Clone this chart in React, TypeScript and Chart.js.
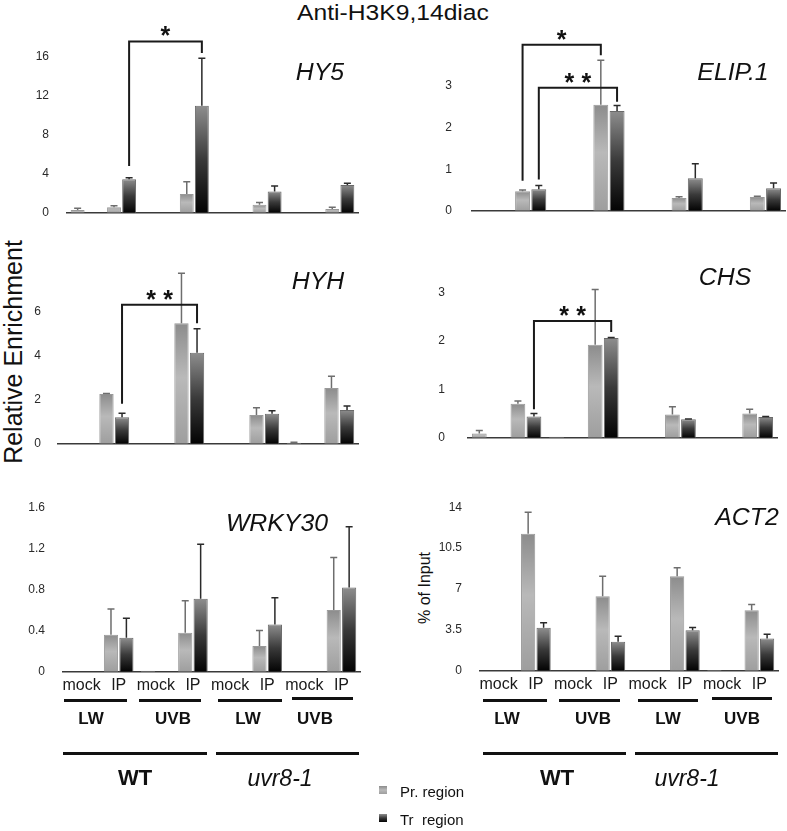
import React, { useEffect, useRef } from 'react';
import { Chart, registerables } from 'chart.js';

Chart.register(...registerables);

const FONT = '"Liberation Sans", Arial, Helvetica, sans-serif';
Chart.defaults.font.family = FONT;

// categories on every panel
const categories = ['mock', 'IP', 'mock', 'IP', 'mock', 'IP', 'mock', 'IP'];

// HY5
const hy5Pr = [0.28, 0.56, 0, 1.94, 0, 0.82, 0, 0.4];
const hy5PrErr = [0.18, 0.16, 0, 1.25, 0, 0.23, 0, 0.16];
const hy5Tr = [0, 3.45, 0, 11.0, 0, 2.2, 0, 2.86];
const hy5TrErr = [0, 0.15, 0, 4.87, 0, 0.56, 0, 0.17];
const hy5Ticks = [0, 4, 8, 12, 16];

// ELIP.1
const elipPr = [0, 0.47, 0, 2.55, 0, 0.31, 0, 0.33];
const elipPrErr = [0, 0.03, 0, 1.07, 0, 0.03, 0, 0.02];
const elipTr = [0, 0.52, 0, 2.4, 0, 0.78, 0, 0.54];
const elipTrErr = [0, 0.09, 0, 0.13, 0, 0.35, 0, 0.13];
const elipTicks = [0, 1, 2, 3];

// HYH
const hyhPr = [0, 2.26, 0, 5.48, 0, 1.31, 0.05, 2.53];
const hyhPrErr = [0, 0.02, 0, 2.27, 0, 0.33, 0.02, 0.54];
const hyhTr = [0, 1.21, 0, 4.14, 0, 1.36, 0, 1.53];
const hyhTrErr = [0, 0.18, 0, 1.08, 0, 0.14, 0, 0.19];
const hyhTicks = [0, 2, 4, 6];

// CHS
const chsPr = [0.09, 0.7, 0.02, 1.92, 0, 0.48, 0, 0.5];
const chsPrErr = [0.06, 0.06, 0, 1.14, 0, 0.16, 0, 0.09];
const chsTr = [0, 0.44, 0, 2.06, 0, 0.38, 0, 0.43];
const chsTrErr = [0, 0.06, 0, 0.01, 0, 0.01, 0, 0.01];
const chsTicks = [0, 1, 2, 3];

// WRKY30
const wrkyPr = [0, 0.36, 0.01, 0.38, 0, 0.25, 0, 0.6];
const wrkyPrErr = [0, 0.25, 0, 0.31, 0, 0.15, 0, 0.51];
const wrkyTr = [0, 0.33, 0, 0.71, 0, 0.46, 0, 0.82];
const wrkyTrErr = [0, 0.19, 0, 0.53, 0, 0.26, 0, 0.59];
const wrkyTicks = [0, 0.4, 0.8, 1.2, 1.6];
const wrkyTickLabels = ['0', '0.4', '0.8', '1.2', '1.6'];

// ACT2 (% of input)
const act2Pr = [0, 11.73, 0, 6.38, 0, 8.08, 0.05, 5.18];
const act2PrErr = [0, 1.84, 0, 1.7, 0, 0.74, 0, 0.49];
const act2Tr = [0, 3.67, 0, 2.48, 0, 3.47, 0, 2.76];
const act2TrErr = [0, 0.43, 0, 0.48, 0, 0.23, 0, 0.37];
const act2Ticks = [0, 3.5, 7, 10.5, 14];

const seriesNames = ['Pr. region', 'Tr  region'];
const conditions = ['LW', 'UVB', 'LW', 'UVB'];
const genotypes = ['WT', 'uvr8-1'];

// significance brackets: [dataset, category] ends, heights in data units
type Bracket = { from: [number, number]; to: [number, number]; level: number; leftEnd: number; rightEnd: number; mark: number };

const hy5Brackets: Bracket[] = [{ from: [1, 1], to: [1, 3], level: 17.6, leftEnd: 4.8, rightEnd: 16.4, mark: 1 }];
const elipBrackets: Bracket[] = [
  { from: [0, 1], to: [0, 3], level: 3.99, leftEnd: 0.72, rightEnd: 3.74, mark: 1 },
  { from: [1, 1], to: [1, 3], level: 2.96, leftEnd: 0.75, rightEnd: 2.62, mark: 2 },
];
const hyhBrackets: Bracket[] = [{ from: [1, 1], to: [1, 3], level: 6.32, leftEnd: 1.82, rightEnd: 5.48, mark: 2 }];
const chsBrackets: Bracket[] = [{ from: [1, 1], to: [1, 3], level: 2.41, leftEnd: 0.59, rightEnd: 2.18, mark: 2 }];

const prStops: [number, string][] = [[0, '#8c8c8c'], [0.45, '#b9b9b9'], [1, '#9e9e9e']];
const trStops: [number, string][] = [[0, '#8e8e8e'], [0.5, '#3a3a3a'], [1, '#030303']];

const shade = (stops: [number, string][]) => (ctx: any) => {
  const chart = ctx.chart;
  if (!chart.chartArea || !ctx.parsed) return stops[1][1];
  const y = chart.scales.y;
  const top = y.getPixelForValue(ctx.parsed.y);
  const bottom = y.getPixelForValue(0);
  if (bottom - top < 1) return stops[2][1];
  const g = chart.ctx.createLinearGradient(0, top, 0, bottom);
  stops.forEach(([o, c]) => g.addColorStop(o, c));
  return g;
};

const errorBarPlugin = {
  id: 'errorBars',
  afterDatasetsDraw(chart: any) {
    const { ctx } = chart;
    const y = chart.scales.y;
    chart.data.datasets.forEach((ds: any, di: number) => {
      const meta = chart.getDatasetMeta(di);
      meta.data.forEach((bar: any, i: number) => {
        const e = ds.errors[i];
        if (!e) return;
        const v = ds.data[i];
        const yBar = y.getPixelForValue(v);
        const yTop = y.getPixelForValue(v + e);
        ctx.save();
        ctx.strokeStyle = ds.errorColor;
        ctx.lineWidth = 1.5;
        ctx.beginPath();
        ctx.moveTo(bar.x, yBar);
        ctx.lineTo(bar.x, yTop);
        ctx.moveTo(bar.x - 3.5, yTop);
        ctx.lineTo(bar.x + 3.5, yTop);
        ctx.stroke();
        ctx.restore();
      });
    });
  },
};

const makeBracketPlugin = (brackets: Bracket[]) => ({
  id: 'brackets',
  afterDatasetsDraw(chart: any) {
    const { ctx } = chart;
    const y = chart.scales.y;
    brackets.forEach((b) => {
      const x1 = chart.getDatasetMeta(b.from[0]).data[b.from[1]].x;
      const x2 = chart.getDatasetMeta(b.to[0]).data[b.to[1]].x;
      const yl = y.getPixelForValue(b.level);
      ctx.save();
      ctx.strokeStyle = '#1a1a1a';
      ctx.lineWidth = 2;
      ctx.beginPath();
      ctx.moveTo(x1, y.getPixelForValue(b.leftEnd));
      ctx.lineTo(x1, yl);
      ctx.lineTo(x2, yl);
      ctx.lineTo(x2, y.getPixelForValue(b.rightEnd));
      ctx.stroke();
      ctx.fillStyle = '#111';
      ctx.font = `bold 25px ${FONT}`;
      ctx.textAlign = 'center';
      ctx.textBaseline = 'alphabetic';
      const cx = (x1 + x2) / 2;
      for (let k = 0; k < b.mark; k++) {
        const dx = (k - (b.mark - 1) / 2) * 17;
        ctx.fillText('*', cx + dx, yl + 3);
      }
      ctx.restore();
    });
  },
});

type Box = { x: number; y: number; w: number; h: number };
type Area = { left: number; right: number; top: number; bottom: number };

interface PanelProps {
  pr: number[];
  prErr: number[];
  tr: number[];
  trErr: number[];
  ticks: number[];
  tickLabels?: string[];
  brackets?: Bracket[];
  box: Box;
  area: Area;
  showX?: boolean;
  tickPad: number;
}

const Panel: React.FC<PanelProps> = ({ pr, prErr, tr, trErr, ticks, tickLabels, brackets = [], box, area, showX = false, tickPad }) => {
  const canvasRef = useRef<HTMLCanvasElement>(null);

  useEffect(() => {
    if (!canvasRef.current) return;
    const xH = showX ? 24 : 0;
    const labels = tickLabels || ticks.map(String);
    const chart = new Chart(canvasRef.current, {
      type: 'bar',
      data: {
        labels: categories,
        datasets: [
          { label: seriesNames[0], data: pr, errors: prErr, errorColor: '#6e6e6e', backgroundColor: shade(prStops), borderColor: '#999999', borderWidth: 1 } as any,
          { label: seriesNames[1], data: tr, errors: trErr, errorColor: '#2a2a2a', backgroundColor: shade(trStops), borderColor: '#6a6a6a', borderWidth: 1 } as any,
        ],
      },
      options: {
        animation: false,
        responsive: false,
        maintainAspectRatio: false,
        categoryPercentage: 0.83,
        barPercentage: 0.92,
        layout: {
          padding: {
            left: 0,
            top: area.top - box.y,
            right: box.x + box.w - area.right,
            bottom: box.y + box.h - area.bottom - xH,
          },
        },
        plugins: { legend: { display: false }, tooltip: { enabled: false } },
        scales: {
          x: {
            grid: { display: false },
            border: { display: true, color: '#3a3a3a', width: 1.5 },
            ticks: { display: showX, color: '#1a1a1a', font: { size: 16 }, padding: -4, maxRotation: 0, autoSkip: false },
            afterFit: (s: any) => { s.height = xH; },
          },
          y: {
            min: 0,
            max: ticks[ticks.length - 1],
            grid: { display: false },
            border: { display: false },
            afterBuildTicks: (s: any) => { s.ticks = ticks.map((v) => ({ value: v })); },
            ticks: {
              color: '#2a2a2a',
              font: { size: 12 },
              padding: tickPad,
              callback: (v: any) => labels[ticks.indexOf(Number(v))] ?? '',
            },
            afterFit: (s: any) => { s.width = area.left - box.x; },
          },
        },
      } as any,
      plugins: [errorBarPlugin, makeBracketPlugin(brackets)],
    });
    return () => chart.destroy();
  }, []);

  return (
    <canvas
      ref={canvasRef}
      width={box.w}
      height={box.h}
      style={{ position: 'absolute', left: box.x, top: box.y, width: box.w, height: box.h }}
    />
  );
};

const Text: React.FC<{ x: number; y: number; size: number; style?: React.CSSProperties; rotate?: boolean; children: React.ReactNode }> = ({ x, y, size, style, rotate, children }) => (
  <div
    style={{
      position: 'absolute',
      left: x,
      top: y,
      fontSize: size,
      lineHeight: 1,
      whiteSpace: 'nowrap',
      color: '#111',
      transform: `translate(-50%, -50%)${rotate ? ' rotate(-90deg)' : ''}`,
      ...style,
    }}
  >
    {children}
  </div>
);

const Rule: React.FC<{ x1: number; x2: number; y: number; t?: number }> = ({ x1, x2, y, t = 3 }) => (
  <div style={{ position: 'absolute', left: x1, top: y - t / 2, width: x2 - x1, height: t, background: '#111' }} />
);

// x-axis grouping underneath the bottom panels
const Grouping: React.FC<{ short: [number, number][]; condX: number[]; long: [number, number][]; genoX: number[] }> = ({ short, condX, long, genoX }) => (
  <>
    {short.map(([a, b], i) => <Rule key={'s' + i} x1={a} x2={b} y={i === 3 ? 698 : 700} />)}
    {conditions.map((c, i) => (
      <Text key={'c' + i} x={condX[i]} y={718} size={17} style={{ fontWeight: 'bold' }}>{c}</Text>
    ))}
    {long.map(([a, b], i) => <Rule key={'l' + i} x1={a} x2={b} y={753} />)}
    <Text x={genoX[0]} y={778} size={22} style={{ fontWeight: 'bold' }}>{genotypes[0]}</Text>
    <Text x={genoX[1]} y={778} size={23} style={{ fontStyle: 'italic' }}>{genotypes[1]}</Text>
  </>
);

const gene: React.CSSProperties = { fontStyle: 'italic', transform: 'translate(-50%, -50%) scaleX(1.08)' };

export default function App() {
  return (
    <div style={{ position: 'absolute', left: 0, top: 0, width: 787, height: 831, background: '#fff', fontFamily: FONT, overflow: 'hidden' }}>
      <Text x={393} y={13} size={22} style={{ transform: 'translate(-50%, -50%) scaleX(1.12)' }}>Anti-H3K9,14diac</Text>
      <Text x={13} y={352} size={25} rotate>Relative Enrichment</Text>
      <Text x={425} y={588} size={16} rotate>% of Input</Text>

      <Panel pr={hy5Pr} prErr={hy5PrErr} tr={hy5Tr} trErr={hy5TrErr} ticks={hy5Ticks} brackets={hy5Brackets}
        box={{ x: 0, y: 15, w: 393, h: 215 }} area={{ left: 67, right: 358, top: 57, bottom: 219 }} tickPad={10} />
      <Panel pr={elipPr} prErr={elipPrErr} tr={elipTr} trErr={elipTrErr} ticks={elipTicks} brackets={elipBrackets}
        box={{ x: 395, y: 15, w: 392, h: 215 }} area={{ left: 472, right: 785, top: 86, bottom: 220 }} tickPad={12} />
      <Panel pr={hyhPr} prErr={hyhPrErr} tr={hyhTr} trErr={hyhTrErr} ticks={hyhTicks} brackets={hyhBrackets}
        box={{ x: 0, y: 255, w: 393, h: 205 }} area={{ left: 58, right: 358, top: 311.7, bottom: 448.3 }} tickPad={9} />
      <Panel pr={chsPr} prErr={chsPrErr} tr={chsTr} trErr={chsTrErr} ticks={chsTicks} brackets={chsBrackets}
        box={{ x: 395, y: 255, w: 392, h: 205 }} area={{ left: 468, right: 777, top: 292.3, bottom: 449 }} tickPad={15} />
      <Panel pr={wrkyPr} prErr={wrkyPrErr} tr={wrkyTr} trErr={wrkyTrErr} ticks={wrkyTicks} tickLabels={wrkyTickLabels}
        box={{ x: 0, y: 490, w: 393, h: 210 }} area={{ left: 63, right: 360, top: 506, bottom: 671.7 }} tickPad={10} showX />
      <Panel pr={act2Pr} prErr={act2PrErr} tr={act2Tr} trErr={act2TrErr} ticks={act2Ticks}
        box={{ x: 395, y: 490, w: 392, h: 210 }} area={{ left: 480, right: 778, top: 506.7, bottom: 670.7 }} tickPad={10} showX />

      <Text x={320} y={72} size={23} style={gene}>HY5</Text>
      <Text x={733} y={72} size={23} style={gene}>ELIP.1</Text>
      <Text x={318} y={281} size={23} style={gene}>HYH</Text>
      <Text x={725} y={277} size={23} style={gene}>CHS</Text>
      <Text x={277} y={523} size={23} style={gene}>WRKY30</Text>
      <Text x={747} y={517} size={23} style={gene}>ACT2</Text>

      <Grouping short={[[64, 127], [139, 201], [218, 282], [292, 353]]} condX={[91, 173, 248, 315]}
        long={[[63, 207], [216, 359]]} genoX={[135, 280]} />
      <Grouping short={[[483, 547], [559, 620], [638, 698], [712, 772]]} condX={[507, 593, 668, 742]}
        long={[[483, 626], [635, 778]]} genoX={[557, 687]} />

      {/* legend */}
      <div style={{ position: 'absolute', left: 379, top: 786, width: 8, height: 8, background: 'linear-gradient(#8c8c8c, #b9b9b9, #9e9e9e)' }} />
      <div style={{ position: 'absolute', left: 379, top: 814, width: 8, height: 8, background: 'linear-gradient(#8e8e8e, #3a3a3a, #030303)' }} />
      <Text x={400} y={791} size={15} style={{ transform: 'translate(0, -50%)' }}>{seriesNames[0]}</Text>
      <Text x={400} y={819} size={15} style={{ transform: 'translate(0, -50%)', whiteSpace: 'pre' }}>{seriesNames[1]}</Text>
    </div>
  );
}
